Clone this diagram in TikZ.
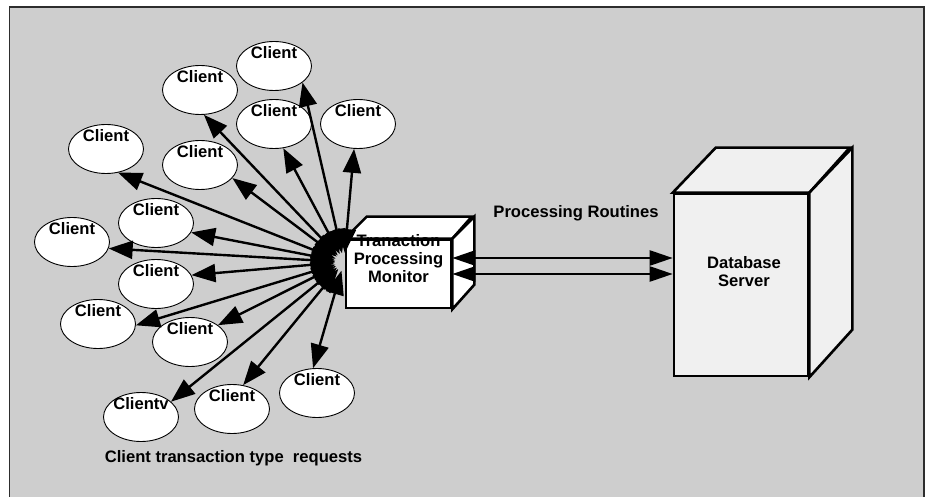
\documentclass[tikz,border=0pt]{standalone}
\usepackage{fontspec}
\setmainfont{Liberation Sans}
\usetikzlibrary{arrows.meta,calc,shapes.geometric}
\definecolor{bggray}{RGB}{206,206,206}
\definecolor{framec}{RGB}{45,45,45}
\definecolor{dbfill}{RGB}{240,240,240}
\begin{document}
\begin{tikzpicture}[x=1pt,y=-1pt,
  lbl/.style={font=\bfseries\fontsize{16.6}{18}\selectfont, inner sep=0pt},
  client/.style={ellipse, draw, fill=white, line width=0.9pt,
    minimum width=75pt, minimum height=49pt, inner sep=0pt,
    label={[lbl, yshift=13pt]center:#1}},
  conn/.style={{Triangle[length=24pt,width=18pt]}-{Triangle[length=24pt,width=18pt]}, line width=2.4pt, shorten >=9pt},
  dbconn/.style={{Triangle[length=23pt,width=15pt]}-{Triangle[length=23pt,width=15pt]}, line width=2.4pt},
  boxline/.style={draw, line width=2.6pt, line join=miter}
]
\useasboundingbox (0,0) rectangle (926,497);
\clip (0,0) rectangle (926,497);
\fill[white] (0,0) rectangle (926,497);
\draw[fill=bggray, draw=framec, line width=1.6pt] (9.5,7) rectangle (924,530);

% clients
\node[client=Client] (c1) at (274,66) {};
\node[client=Client] (c2) at (200,90) {};
\node[client=Client] (c3) at (274,124) {};
\node[client=Client] (c4) at (358,124) {};
\node[client=Client] (c5) at (106,149) {};
\node[client=Client] (c6) at (200,165) {};
\node[client=Client] (c7) at (156,223) {};
\node[client=Client] (c8) at (72,242) {};
\node[client=Client] (c9) at (156,284) {};
\node[client=Client] (c10) at (98,324) {};
\node[client=Client] (c11) at (190,342) {};
\node[client=Clientv] (c12) at (141,417) {};
\node[client=Client] (c13) at (232,409) {};
\node[client=Client] (c14) at (317,393) {};

% TPM box
\node[boxline, fill=white, minimum width=105pt, minimum height=68pt, inner sep=0pt] (tpm) at (398.5,274) {};
\draw[boxline, fill=white] (tpm.north west) -- ++(22,-22) -- ++(105,0) -- (tpm.north east) -- cycle;
\draw[boxline, fill=white] (tpm.north east) -- ++(22,-22) -- ++(0,68) -- (tpm.south east) -- cycle;
\node[lbl, align=center] (tpmtxt) at ($(tpm.center)+(0,-15)$) {Tranaction\\Processing\\Monitor};

% Database server box
\node[boxline, fill=dbfill, minimum width=134pt, minimum height=182pt, inner sep=0pt] (db) at (741,285) {};
\draw[boxline, fill=dbfill] (db.north west) -- ++(43,-45) -- ++(134,0) -- (db.north east) -- cycle;
\draw[boxline, fill=dbfill] (db.north east) -- ++(43,-45) -- ++(0,182) -- (db.south east) -- cycle;
\node[lbl, align=center] (dbtxt) at ($(db.center)+(3,-13.5)$) {Database\\Server};

% hub
\coordinate (hub) at (344,262);
\draw[conn] (c1.-30) -- (hub);
\draw[conn] (c2.-81) -- (hub);
\draw[conn] (c3.-69) -- (hub);
\draw[conn] (c4.-99) -- (hub);
\draw[conn] (c5.-63) -- (hub);
\draw[conn] (c6.-22) -- (hub);
\draw[conn] (c7.-15) -- (hub);
\draw[conn] (c8.-10) -- (hub);
\draw[conn] (c9.14) -- (hub);
\draw[conn] (c10.-2) -- (hub);
\draw[conn] (c11.31) -- (hub);
\draw[conn] (c12.27) -- (hub);
\draw[conn] (c13.65) -- (hub);
\draw[conn] (c14.99) -- (hub);

% processing routines arrows
\coordinate (ya) at (0,258);
\coordinate (yb) at (0,274);
\draw[dbconn] (tpm.east |- ya) -- (db.west |- ya);
\draw[dbconn] (tpm.east |- yb) -- (db.west |- yb);

\node[lbl] (prlbl) at (576,213) {Processing Routines};
\node[lbl] (caption) at (233.5,458) {Client transaction type\ \ requests};
\end{tikzpicture}
\end{document}
